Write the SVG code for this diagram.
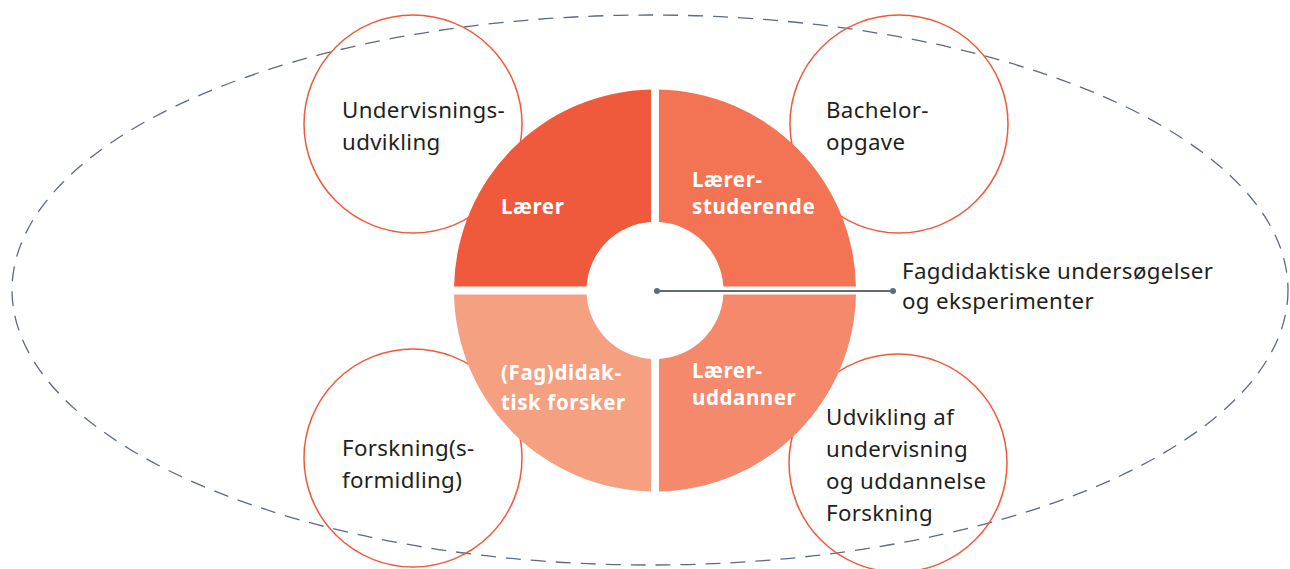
<svg xmlns="http://www.w3.org/2000/svg" width="1290" height="569" viewBox="0 0 1290 569">
<style>
.ring{fill:none;stroke:#F05A3C;stroke-width:1.5}
.lbl{font-family:"Noto Sans","Open Sans",sans-serif;font-size:22.3px;letter-spacing:0.35px;fill:#231F20}
.wl{font-family:"Noto Sans","Open Sans",sans-serif;font-size:20.5px;letter-spacing:0.6px;font-weight:bold;fill:#FFFFFF}
.conn{stroke:#5B6B80;stroke-width:2;fill:none}
.dot{fill:#5B6B80}
</style>
<rect width="1290" height="569" fill="#FFFFFF"/>
<g id="ellipse">
<ellipse cx="650" cy="290" rx="638" ry="275" fill="none" stroke="#5B6B80" stroke-width="1.3" stroke-dasharray="15 10"/>
</g>
<g id="circle-undervisningsudvikling">
<circle class="ring" cx="413" cy="124" r="109"/>
<text class="lbl" x="342" y="118">Undervisnings-</text>
<text class="lbl" x="342" y="150">udvikling</text>
</g>
<g id="circle-bachelor">
<circle class="ring" cx="899" cy="124" r="109"/>
<text class="lbl" x="826" y="118">Bachelor-</text>
<text class="lbl" x="826" y="150">opgave</text>
</g>
<g id="circle-forskning">
<circle class="ring" cx="413" cy="458" r="109"/>
<text class="lbl" x="342" y="456">Forskning(s-</text>
<text class="lbl" x="342" y="488">formidling)</text>
</g>
<g id="circle-udvikling">
<circle class="ring" cx="898" cy="463" r="109"/>
<text class="lbl" x="826" y="425">Udvikling af</text>
<text class="lbl" x="826" y="457">undervisning</text>
<text class="lbl" x="826" y="489">og uddannelse</text>
<text class="lbl" x="826" y="521">Forskning</text>
</g>
<g id="q-laerer">
<path fill="#EF5A3C" d="M651,89.54 A201,201 0 0 0 454.04,286.5 L586.62,286.5 A68.5,68.5 0 0 1 651,222.12 Z"/>
<text class="wl" x="501" y="214">Lærer</text>
</g>
<g id="q-laererstuderende">
<path fill="#F27455" d="M659,89.54 A201,201 0 0 1 855.96,286.5 L723.38,286.5 A68.5,68.5 0 0 0 659,222.12 Z"/>
<text class="wl" x="692" y="187">Lærer-</text>
<text class="wl" x="692" y="214">studerende</text>
</g>
<g id="q-laereruddanner">
<path fill="#F5896C" d="M855.96,294.5 A201,201 0 0 1 659,491.46 L659,358.88 A68.5,68.5 0 0 0 723.38,294.5 Z"/>
<text class="wl" x="692" y="378">Lærer-</text>
<text class="wl" x="692" y="405">uddanner</text>
</g>
<g id="q-forsker">
<path fill="#F5A081" d="M651,491.46 A201,201 0 0 1 454.04,294.5 L586.62,294.5 A68.5,68.5 0 0 0 651,358.88 Z"/>
<text class="wl" x="501" y="380">(Fag)didak-</text>
<text class="wl" x="501" y="410">tisk forsker</text>
</g>
<g id="connectors">
<line class="conn" x1="657" y1="291" x2="893" y2="291"/>
<circle class="dot" cx="657" cy="291" r="3"/>
<circle class="dot" cx="893" cy="291" r="3"/>
</g>
<g id="label-fagdidaktiske">
<text class="lbl" x="902" y="279">Fagdidaktiske undersøgelser</text>
<text class="lbl" x="902" y="309">og eksperimenter</text>
</g>
</svg>
